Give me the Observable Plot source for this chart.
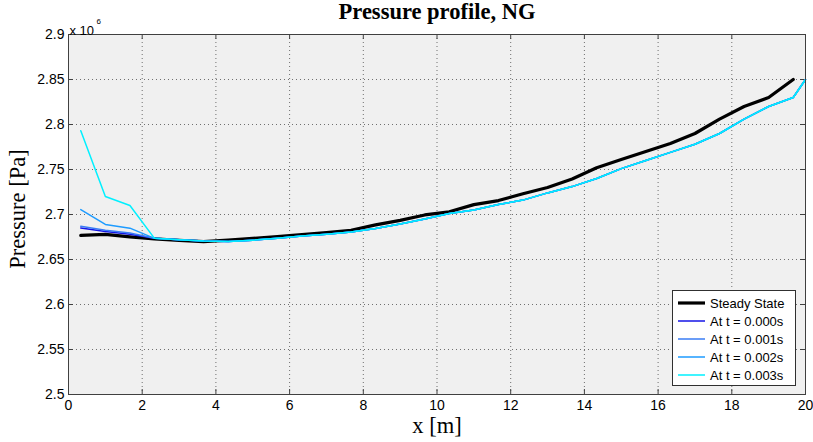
<!DOCTYPE html>
<html>
<head>
<meta charset="utf-8">
<script src="https://cdn.jsdelivr.net/npm/d3@7"></script>
<script src="https://cdn.jsdelivr.net/npm/@observablehq/plot@0.6"></script>
<style>
  html, body { margin: 0; padding: 0; background: #ffffff; }
  #wrap { position: relative; width: 813px; height: 442px; }
  #legend { position: absolute; left: 672px; top: 290px; width: 124px; height: 96px;
    background: #ffffff; border: 1px solid #303030; box-sizing: border-box;
    font-family: Arial, "Liberation Sans", sans-serif; font-size: 13px; color: #000; padding-top: 3px; }
  .row { display: flex; align-items: center; height: 18px; }
  .sw { width: 27px; margin-left: 5px; margin-right: 5px; }
  .lbl { position: absolute; font-family: "Liberation Serif", "Times New Roman", serif; color: #000; text-align: center; white-space: nowrap; }
  #title { left: 237px; width: 400px; top: 1px; font-size: 22.5px; line-height: 22.5px; font-weight: bold; }
  #xlabel { left: 337px; width: 200px; top: 415px; font-size: 22.5px; line-height: 22.5px; }
  #ylabel { left: -82px; width: 200px; top: 197px; height: 24px; font-size: 22.5px; line-height: 24px; transform: rotate(-90deg); }
</style>
</head>
<body>
<div id="wrap">
  <div id="chart"></div>
  <div id="title" class="lbl">Pressure profile, NG</div>
  <div id="xlabel" class="lbl">x [m]</div>
  <div id="ylabel" class="lbl">Pressure [Pa]</div>
  <div id="legend"></div>
</div>
<script>
// x positions (m)
const xSteady = [0.333, 1.0, 1.667, 2.333, 3.0, 3.667, 4.333, 5.0, 5.667, 6.333, 7.0, 7.667, 8.333, 9.0, 9.667,
  10.333, 11.0, 11.667, 12.333, 13.0, 13.667, 14.333, 15.0, 15.667, 16.333, 17.0, 17.667, 18.333, 19.0, 19.667];
const xTransient = [0.333, 1.0, 1.667, 2.333, 3.0, 3.667, 4.333, 5.0, 5.667, 6.333, 7.0, 7.667, 8.333, 9.0, 9.667,
  10.333, 11.0, 11.667, 12.333, 13.0, 13.667, 14.333, 15.0, 15.667, 16.333, 17.0, 17.667, 18.333, 19.0, 19.667, 20.0];

// pressure values (x 10^6 Pa)
const steadyState = [2.6768, 2.6780, 2.6752, 2.6730, 2.6712, 2.6698, 2.6716, 2.6735, 2.6755, 2.6778, 2.6800, 2.6825,
  2.6885, 2.6935, 2.6995, 2.7030, 2.7110, 2.7155, 2.7230, 2.7300, 2.7395, 2.7520, 2.7610, 2.7700, 2.7790, 2.7900,
  2.8060, 2.8200, 2.8300, 2.8500];
const tail = [2.6735, 2.6720, 2.6705, 2.6700, 2.6715, 2.6735, 2.6760, 2.6780, 2.6805, 2.6845, 2.6895, 2.6950,
  2.7010, 2.7050, 2.7110, 2.7160, 2.7240, 2.7310, 2.7400, 2.7510, 2.7600, 2.7690, 2.7780, 2.7900, 2.8060, 2.8200,
  2.8300, 2.8500];
const t0000 = [2.6850, 2.6810, 2.6780].concat(tail);
const t0001 = [2.6870, 2.6825, 2.6795].concat(tail);
const t0002 = [2.7055, 2.6890, 2.6848].concat(tail);
const t0003 = [2.7930, 2.7200, 2.7100].concat(tail);

const seriesNames = ["Steady State", "At t = 0.000s", "At t = 0.001s", "At t = 0.002s", "At t = 0.003s"];
const seriesColors = ["#000000", "#1414e6", "#3a7cf5", "#1e9bff", "#00f0ff"];
const seriesWidths = [3.2, 1.5, 1.5, 1.5, 1.5];

const xTicks = [0, 2, 4, 6, 8, 10, 12, 14, 16, 18, 20];
const yTicks = [2.5, 2.55, 2.6, 2.65, 2.7, 2.75, 2.8, 2.85, 2.9];
const yTickLabels = ["2.5", "2.55", "2.6", "2.65", "2.7", "2.75", "2.8", "2.85", "2.9"];

const allY = [steadyState, t0000, t0001, t0002, t0003];
const rows = [];
allY.forEach((ys, k) => {
  const xs = k === 0 ? xSteady : xTransient;
  ys.forEach((v, i) => rows.push({series: seriesNames[k], x: xs[i], p: v}));
});

const W = 813, H = 442, mL = 68, mR = 8, mT = 34, mB = 48;
const plotW = W - mL - mR, plotH = H - mT - mB;

const lineMarks = seriesNames.map((s, k) =>
  Plot.line(rows.filter(d => d.series === s), {x: "x", y: "p", stroke: seriesColors[k], strokeWidth: seriesWidths[k], strokeLinejoin: "round"})
);

const chart = Plot.plot({
  width: W, height: H,
  marginLeft: mL, marginRight: mR, marginTop: mT, marginBottom: mB,
  style: {fontFamily: "Arial, 'Liberation Sans', sans-serif", fontSize: "14px", background: "#ffffff", color: "#000"},
  x: {domain: [0, 20]},
  y: {domain: [2.5, 2.9]},
  marks: [
    Plot.frame({fill: "#f0f0f0", stroke: null}),
    Plot.gridX(xTicks.slice(1, -1), {stroke: "#606060", strokeOpacity: 0.9, strokeDasharray: "1,3"}),
    Plot.gridY(yTicks.slice(1, -1), {stroke: "#606060", strokeOpacity: 0.9, strokeDasharray: "1,3"}),
    Plot.tickX(xTicks, {x: d => d, stroke: "#404040", insetTop: plotH - 5}),
    Plot.tickX(xTicks, {x: d => d, stroke: "#404040", insetBottom: plotH - 5}),
    Plot.tickY(yTicks, {y: d => d, stroke: "#404040", insetRight: plotW - 5}),
    Plot.tickY(yTicks, {y: d => d, stroke: "#404040", insetLeft: plotW - 5}),
    ...lineMarks,
    Plot.frame({stroke: "#404040", strokeWidth: 1}),
    Plot.axisX(xTicks, {tickSize: 0, tickPadding: 6, label: null, fontSize: 14}),
    Plot.axisY(yTicks, {tickSize: 0, tickPadding: 4, label: null, tickFormat: (d, i) => yTickLabels[i], fontSize: 14}),
    Plot.text(["x 10"], {frameAnchor: "top-left", textAnchor: "start", dx: 1, dy: -9, fontSize: 13}),
    Plot.text(["6"], {frameAnchor: "top-left", textAnchor: "start", dx: 28, dy: -16, fontSize: 8})
  ]
});
document.getElementById("chart").appendChild(chart);

// legend inside plot area
const legend = document.getElementById("legend");
seriesNames.forEach((s, k) => {
  const row = document.createElement("div");
  row.className = "row";
  row.innerHTML = `<svg class="sw" width="27" height="6"><line x1="0" x2="27" y1="3" y2="3" stroke="${seriesColors[k]}" stroke-width="${seriesWidths[k]}"/></svg><span>${s}</span>`;
  legend.appendChild(row);
});
</script>
</body>
</html>
